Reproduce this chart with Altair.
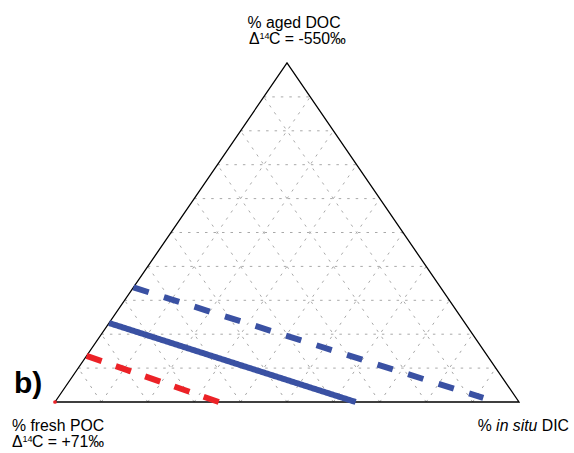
import altair as alt
import pandas as pd

# ---- data (ternary fractions: a = aged DOC, d = in situ DIC, f = fresh POC = 1-a-d)
series_names = ["red_dashed", "blue_solid", "blue_dashed"]
start_a = [0.136, 0.233, 0.338]
start_d = [0.0, 0.0, 0.0]
end_a = [0.0, 0.0, 0.012]
end_d = [0.353, 0.648, 0.917]
series_colors = ["#ec2227", "#3a51a3", "#3a51a3"]
series_dash = [[16, 15], [1, 0], [16, 16]]

divisions = 10
top_label = ["% aged DOC", "-550‰"]
left_label = ["% fresh POC", "+71‰"]
right_label = ["%", "in situ", "DIC"]
panel_tag = "b)"

FONT = "Liberation Sans"
FS = 15.8

# ---- helpers
def cart(a, d):
    return d + a / 2.0, a

W, H = 574, 453
x_scale = alt.Scale(domain=[-55 / 464, (W - 55) / 464], nice=False, zero=False)
y_scale = alt.Scale(domain=[-51 / 339, -51 / 339 + H / 339], nice=False, zero=False)


def xenc():
    return alt.X("x:Q", scale=x_scale, axis=None)


def yenc():
    return alt.Y("y:Q", scale=y_scale, axis=None)


# grid lines
rows = []
gid = 0
for i in range(1, divisions):
    v = i / divisions
    segs = [
        ((v, 0.0), (v, 1 - v)),          # constant a
        ((0.0, v), (1 - v, v)),          # constant d
        ((0.0, 1 - v), (1 - v, 0.0)),    # constant f
    ]
    for (a0, d0), (a1, d1) in segs:
        for k, (aa, dd) in enumerate([(a0, d0), (a1, d1)]):
            x, y = cart(aa, dd)
            rows.append({"g": gid, "o": k, "x": x, "y": y})
        gid += 1
grid_df = pd.DataFrame(rows)

grid = alt.Chart(grid_df).mark_line(
    color="#a8a8a8", strokeWidth=1, strokeDash=[2.5, 6]
).encode(x=xenc(), y=yenc(), detail="g:N", order="o:Q")

# triangle outline
tri_pts = [(0, 0), (0, 1), (1, 0), (0, 0)]
tri_df = pd.DataFrame(
    [{"o": k, "x": cart(a, d)[0], "y": cart(a, d)[1]} for k, (a, d) in enumerate(tri_pts)]
)
outline = alt.Chart(tri_df).mark_line(color="black", strokeWidth=1.3).encode(
    x=xenc(), y=yenc(), order="o:Q"
)

# mixing lines
layers = []
for name, sa, sd, ea, ed, col, dash in zip(
    series_names, start_a, start_d, end_a, end_d, series_colors, series_dash
):
    p0 = cart(sa, sd)
    p1 = cart(ea, ed)
    df = pd.DataFrame({"o": [0, 1], "x": [p0[0], p1[0]], "y": [p0[1], p1[1]]})
    layers.append(
        alt.Chart(df).mark_line(
            color=col, strokeWidth=6, strokeDash=dash, strokeCap="butt"
        ).encode(x=xenc(), y=yenc(), order="o:Q")
    )

# red dot at fresh POC vertex
dot = alt.Chart(pd.DataFrame({"x": [0.0], "y": [0.0]})).mark_point(
    filled=True, color="#ec2227", size=14, opacity=1
).encode(x=xenc(), y=yenc())

dummy = pd.DataFrame({"k": [0]})


def label(text, x, y, size=FS, align="left", style="normal", weight="normal"):
    return alt.Chart(dummy).mark_text(
        text=text, align=align, baseline="alphabetic", fontSize=size, font=FONT,
        fontStyle=style, fontWeight=weight, color="black"
    ).encode(x=alt.value(x), y=alt.value(y))


def delta_line(x0, y0, value):
    dw = 0.667 * FS
    return [
        label("Δ", x0, y0),
        label("14", x0 + dw, y0 - 5.5, size=9),
        label("C = " + value, x0 + dw + 9.5, y0),
    ]


it_w = 2.612 * FS
texts = [
    label(top_label[0], 294, 28, align="center"),
    *delta_line(249, 44, top_label[1]),
    label(left_label[0], 12, 431),
    *delta_line(12, 447, left_label[1]),
    label(right_label[2], 569, 431, align="right"),
    label(right_label[1], 569 - 2.0 * FS, 431, align="right", style="italic"),
    label(right_label[0], 569 - 2.0 * FS - 0.278 * FS - it_w, 431, align="right"),
    label(panel_tag, 14, 393, size=30, weight="bold"),
]

chart = alt.layer(grid, outline, *layers, dot, *texts).properties(
    width=W, height=H, autosize=alt.AutoSizeParams(type="none"), padding=0
).configure_view(stroke=None)

chart.save("out.html", embed_options={"renderer": "svg", "actions": False})
